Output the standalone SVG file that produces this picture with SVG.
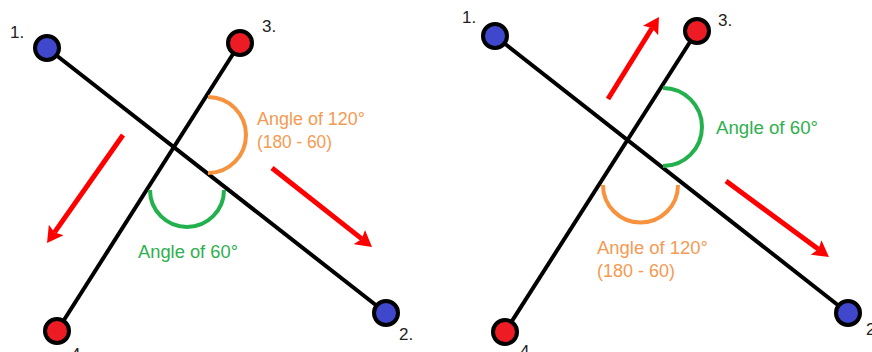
<svg xmlns="http://www.w3.org/2000/svg" width="872" height="352" viewBox="0 0 872 352">
  <defs>
    <style>
      .seg { stroke: #000; stroke-width: 4; fill: none; }
      .node circle { stroke: #000; stroke-width: 4; }
      .blue { fill: #3f48cc; }
      .red { fill: #ed1c24; }
      .lbl { font-family: "Liberation Sans", Arial, sans-serif; font-size: 17px; fill: #222; }
      .arr { stroke: #ff0000; stroke-width: 5; fill: none; marker-end: url(#head); }
      .arc-o { stroke: #f7923e; stroke-width: 4; fill: none; }
      .arc-g { stroke: #22b14c; stroke-width: 4; fill: none; }
      .txt { font-family: "Liberation Sans", Arial, sans-serif; font-size: 18px; }
      .t-o { fill: #f59a52; }
      .t-g { fill: #2fb04f; }
    </style>
    <marker id="head" viewBox="0 0 16 18" refX="3" refY="9" markerWidth="16" markerHeight="18" markerUnits="userSpaceOnUse" orient="auto">
      <path d="M0,0 L16,9 L0,18 L3,9 z" fill="#ff0000"/>
    </marker>
  </defs>
  <rect width="872" height="352" fill="#fff"/>

  <!-- connectors -->
  <g id="connectors">
    <line class="seg" x1="47" y1="48" x2="386" y2="313"/>
    <line class="seg" x1="240" y1="43" x2="57" y2="331"/>
    <line class="seg" x1="495" y1="36" x2="848" y2="313"/>
    <line class="seg" x1="697" y1="31" x2="505" y2="332"/>
  </g>

  <!-- annotations: angle arcs, direction arrows -->
  <g id="annotations">
    <path class="arc-o" d="M208,97 A38,38 0 0 1 208,173"/>
    <path class="arc-g" d="M150,190 A37,37 0 0 0 224,190"/>
    <path class="arc-g" d="M663,88 A39,39 0 0 1 663,166"/>
    <path class="arc-o" d="M603,185 A37.5,37.5 0 0 0 678,185"/>

    <line class="arr" x1="123" y1="135" x2="54.5" y2="232.4"/>
    <line class="arr" x1="272" y1="168" x2="361.8" y2="238.9"/>
    <line class="arr" x1="608" y1="99" x2="652.1" y2="28"/>
    <line class="arr" x1="726" y1="181" x2="818.5" y2="249.3"/>

    <text class="txt t-o" x="257" y="125" textLength="108" lengthAdjust="spacingAndGlyphs">Angle of 120°</text>
    <text class="txt t-o" x="257" y="148" textLength="75" lengthAdjust="spacingAndGlyphs">(180 - 60)</text>
    <text class="txt t-g" x="138" y="258" textLength="100" lengthAdjust="spacingAndGlyphs">Angle of 60°</text>

    <text class="txt t-g" x="716" y="134" textLength="102" lengthAdjust="spacingAndGlyphs">Angle of 60°</text>
    <text class="txt t-o" x="597" y="254" textLength="111" lengthAdjust="spacingAndGlyphs">Angle of 120°</text>
    <text class="txt t-o" x="597" y="277" textLength="78" lengthAdjust="spacingAndGlyphs">(180 - 60)</text>
  </g>

  <!-- left panel nodes -->
  <g id="L1" class="node"><circle class="blue" cx="47" cy="48" r="12"/><text class="lbl" x="10" y="38">1.</text></g>
  <g id="L3" class="node"><circle class="red" cx="240" cy="43" r="12"/><text class="lbl" x="262" y="32">3.</text></g>
  <g id="L2" class="node"><circle class="blue" cx="386" cy="313" r="12"/><text class="lbl" x="399" y="340">2.</text></g>
  <g id="L4" class="node"><circle class="red" cx="57" cy="331" r="12"/><text class="lbl" x="71" y="360">4.</text></g>

  <!-- right panel nodes -->
  <g id="R1" class="node"><circle class="blue" cx="495" cy="36" r="12"/><text class="lbl" x="462" y="23">1.</text></g>
  <g id="R3" class="node"><circle class="red" cx="697" cy="31" r="12"/><text class="lbl" x="718" y="26">3.</text></g>
  <g id="R2" class="node"><circle class="blue" cx="848" cy="313" r="12"/><text class="lbl" x="866" y="335">2.</text></g>
  <g id="R4" class="node"><circle class="red" cx="505" cy="332" r="12"/><text class="lbl" x="520" y="357">4.</text></g>
</svg>
